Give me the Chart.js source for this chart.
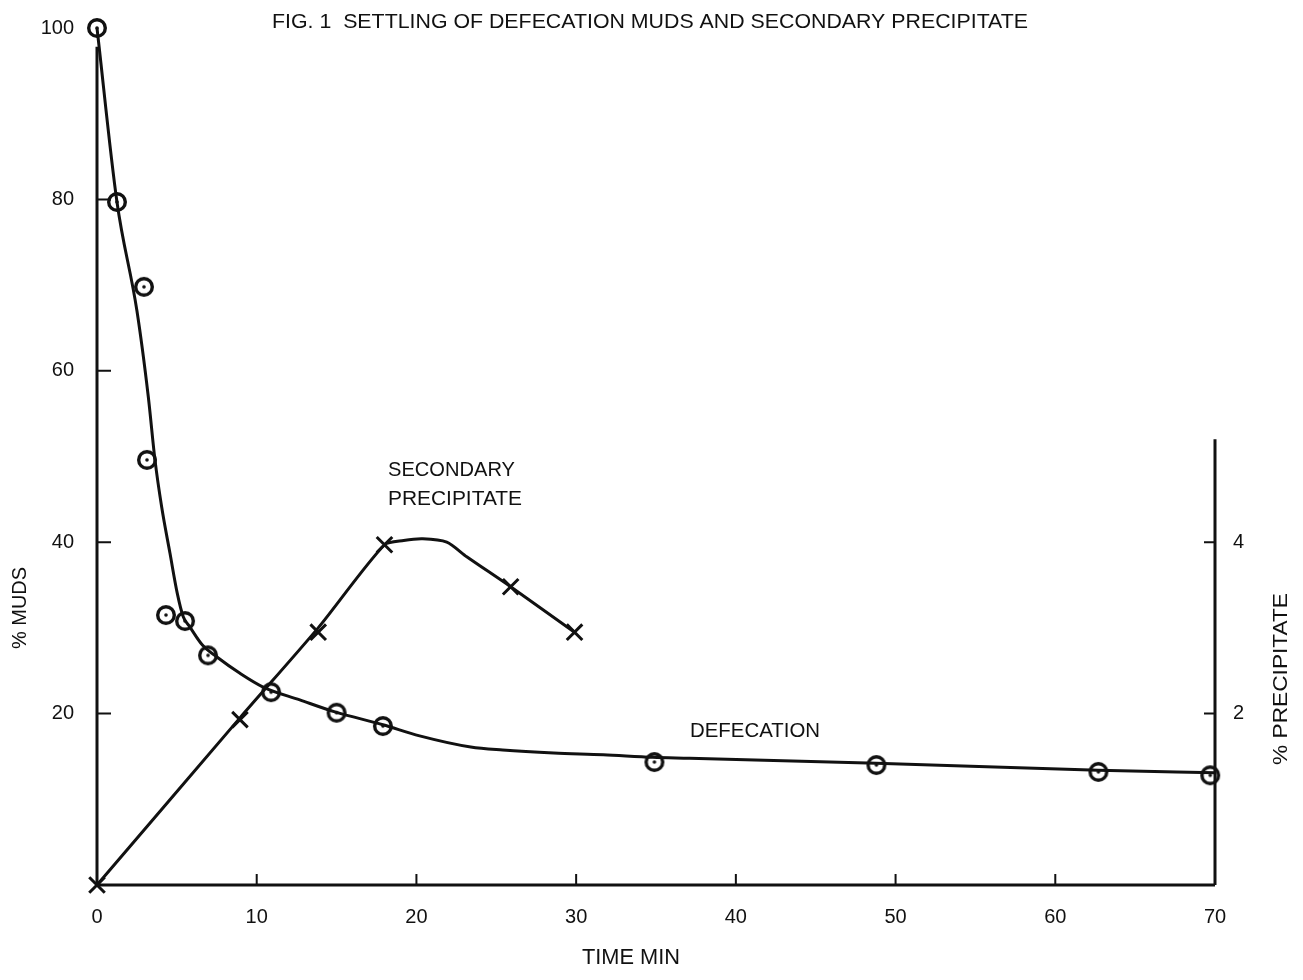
<!DOCTYPE html>
<html>
<head>
<meta charset="utf-8">
<script src="https://cdn.jsdelivr.net/npm/chart.js@4.4.1/dist/chart.umd.min.js"></script>
<style>
  body { margin: 0; background: #fff; }
  canvas { display: block; }
</style>
</head>
<body>
<canvas id="fig1" width="1303" height="980"></canvas>
<script>
// defecation muds, measured points (time min, % muds)
var mudTime = [0, 1.25, 2.94, 3.13, 4.32, 5.51, 6.95, 10.9, 15.0, 17.9, 34.9, 48.8, 62.7, 69.7];
var mudPct  = [100, 79.7, 69.8, 49.6, 31.5, 30.8, 26.8, 22.5, 20.1, 18.55, 14.35, 14.0, 13.2, 12.8];

// the hand drawn curve through them
var mudCurveTime = [0, 1.25, 2.5, 3.21, 3.63, 4.05, 4.57, 5.03, 5.4, 5.82, 6.6, 7.51, 8.95, 10.4, 12.7, 14.9, 17.9, 20.2, 23.4, 25.4, 28.6, 31.7, 34.8, 37.1, 48.8, 62.7, 70];
var mudCurvePct  = [100, 79.7, 67.0, 57.0, 49.6, 44.1, 38.7, 34.0, 31.3, 30.1, 28.0, 26.6, 24.7, 23.1, 21.6, 20.2, 18.7, 17.4, 16.1, 15.75, 15.4, 15.2, 14.9, 14.8, 14.2, 13.4, 13.1];

// secondary precipitate (time min, % precipitate)
var precTime = [0, 8.95, 13.85, 18.0, 25.9, 29.9];
var precPct  = [0, 1.93, 2.95, 3.97, 3.48, 2.95];
var precCurveTime = [0, 8.95, 13.85, 18.0, 19.2, 20.4, 21.9, 23.15, 25.9, 29.9];
var precCurvePct  = [0, 1.95, 3.0, 3.97, 4.02, 4.04, 4.0, 3.83, 3.48, 2.95];

var timeTicks = [0, 10, 20, 30, 40, 50, 60, 70];
var mudTicks = [20, 40, 60, 80, 100];
var precTicks = [2, 4];

var ink = '#111';
var face = '"Liberation Sans", Arial, sans-serif';

function pairs(xs, ys) {
  return xs.map(function (v, i) { return { x: v, y: ys[i] }; });
}

// circle with a dot in the middle
var ring = document.createElement('canvas');
ring.width = 26; ring.height = 26;
(function () {
  var c = ring.getContext('2d');
  c.strokeStyle = ink; c.fillStyle = ink; c.lineWidth = 3.4;
  c.beginPath(); c.arc(13, 13, 8.3, 0, Math.PI * 2); c.stroke();
  c.beginPath(); c.arc(13, 13, 1.8, 0, Math.PI * 2); c.fill();
})();

// squeeze or stretch text to the width it has in the figure
function fitText(ctx, str, x, y, w, rot) {
  var m = ctx.measureText(str).width;
  ctx.save();
  ctx.translate(x, y);
  if (rot) ctx.rotate(rot);
  ctx.scale(w / m, 1);
  ctx.fillText(str, 0, 0);
  ctx.restore();
}

var frame = {
  id: 'frame',
  afterDatasetsDraw: function (chart) {
    var ctx = chart.ctx, x = chart.scales.x, y = chart.scales.y, y2 = chart.scales.y2;
    var x0 = x.getPixelForValue(0), x70 = x.getPixelForValue(70), yb = y.getPixelForValue(0);
    ctx.save();
    ctx.strokeStyle = ink;
    ctx.lineWidth = 3;
    ctx.beginPath();
    ctx.moveTo(x0, y.getPixelForValue(97.8));
    ctx.lineTo(x0, yb);
    ctx.lineTo(x70, yb);
    ctx.moveTo(x70, y2.getPixelForValue(5.2));
    ctx.lineTo(x70, yb);
    ctx.stroke();

    // small ticks, pointing into the plot
    ctx.lineWidth = 2;
    ctx.beginPath();
    timeTicks.forEach(function (t) {
      if (t === 0 || t === 70) return;
      var px = x.getPixelForValue(t);
      ctx.moveTo(px, yb); ctx.lineTo(px, yb - 11);
    });
    mudTicks.forEach(function (t) {
      if (t === 100) return;
      var py = y.getPixelForValue(t);
      ctx.moveTo(x0, py); ctx.lineTo(x0 + 14, py);
    });
    precTicks.forEach(function (t) {
      var py = y2.getPixelForValue(t);
      ctx.moveTo(x70, py); ctx.lineTo(x70 - 11, py);
    });
    ctx.stroke();
    ctx.restore();
  },
  afterDraw: function (chart) {
    var ctx = chart.ctx;
    ctx.save();
    ctx.fillStyle = ink;
    ctx.textBaseline = 'alphabetic';
    ctx.textAlign = 'left';
    ctx.font = '21px ' + face;
    fitText(ctx, 'FIG. 1  SETTLING OF DEFECATION MUDS AND SECONDARY PRECIPITATE', 272, 28, 756);
    fitText(ctx, 'SECONDARY', 388, 476, 127);
    fitText(ctx, 'PRECIPITATE', 388, 505, 134);
    fitText(ctx, 'DEFECATION', 690, 737, 130);

    ctx.textAlign = 'center';
    ctx.textBaseline = 'middle';
    ctx.font = '22px ' + face;
    fitText(ctx, 'TIME MIN', 631, 958, 98);
    ctx.font = '21px ' + face;
    fitText(ctx, '% MUDS', 20, 608, 82, -Math.PI / 2);
    fitText(ctx, '% PRECIPITATE', 1281, 679, 172, -Math.PI / 2);
    ctx.restore();
  }
};

function fixTicks(values) {
  return function (scale) {
    scale.ticks = values.map(function (v) { return { value: v }; });
  };
}

// fixed axis boxes so the plot area sits where it does in the figure
function box(w, h) {
  return function (s) {
    if (w) s.width = w;
    if (h) s.height = h;
    s.paddingTop = 0; s.paddingBottom = 0;
    s.paddingLeft = 0; s.paddingRight = 0;
  };
}

var tickFont = { family: face, size: 20 };

new Chart(document.getElementById('fig1'), {
  type: 'scatter',
  data: {
    datasets: [{
      data: pairs(mudCurveTime, mudCurvePct),
      showLine: true,
      borderColor: ink,
      borderWidth: 3,
      pointRadius: 0,
      cubicInterpolationMode: 'monotone',
      yAxisID: 'y',
      clip: false
    }, {
      data: pairs(mudTime, mudPct),
      pointStyle: ring,
      pointRadius: 10,
      yAxisID: 'y',
      clip: false
    }, {
      data: pairs(precCurveTime, precCurvePct),
      showLine: true,
      borderColor: ink,
      borderWidth: 3,
      pointRadius: 0,
      tension: 0.25,
      yAxisID: 'y2',
      clip: false
    }, {
      data: pairs(precTime, precPct),
      pointStyle: 'crossRot',
      pointRadius: 11,
      borderColor: ink,
      borderWidth: 3,
      yAxisID: 'y2',
      clip: false
    }]
  },
  options: {
    responsive: false,
    animation: false,
    devicePixelRatio: 1,
    layout: { padding: { top: 28, left: 0, right: 0, bottom: 0 } },
    plugins: { legend: { display: false }, tooltip: { enabled: false } },
    scales: {
      x: {
        type: 'linear', min: 0, max: 70,
        afterBuildTicks: fixTicks(timeTicks),
        afterFit: box(0, 95),
        grid: { display: false, drawTicks: false },
        border: { display: false },
        ticks: { color: ink, font: tickFont, padding: 20 }
      },
      y: {
        type: 'linear', position: 'left', min: 0, max: 100,
        afterBuildTicks: fixTicks(mudTicks),
        afterFit: box(97, 0),
        grid: { display: false, drawTicks: false },
        border: { display: false },
        ticks: { color: ink, font: tickFont, padding: 23 }
      },
      y2: {
        type: 'linear', position: 'right', min: 0, max: 10,
        afterBuildTicks: fixTicks(precTicks),
        afterFit: box(88, 0),
        grid: { display: false, drawTicks: false },
        border: { display: false },
        ticks: { color: ink, font: tickFont, padding: 18 }
      }
    }
  },
  plugins: [frame]
});
</script>
</body>
</html>
